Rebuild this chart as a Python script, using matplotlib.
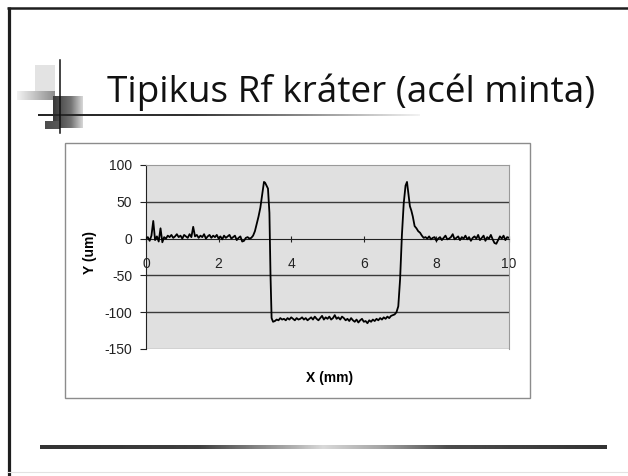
import matplotlib
matplotlib.use('Agg')
import matplotlib.pyplot as plt
from matplotlib.patches import Rectangle
import numpy as np

plt.rcParams['axes.unicode_minus'] = False

# profile data (x in mm, y in um)
x_left = [0.00, 0.05, 0.10, 0.15, 0.20, 0.25, 0.30, 0.35, 0.40, 0.45,
          0.50, 0.55, 0.60, 0.65, 0.70, 0.75, 0.80, 0.85, 0.90, 0.95,
          1.00, 1.05, 1.10, 1.15, 1.20, 1.25, 1.30, 1.35, 1.40, 1.45,
          1.50, 1.55, 1.60, 1.65, 1.70, 1.75, 1.80, 1.85, 1.90, 1.95,
          2.00, 2.05, 2.10, 2.15, 2.20, 2.25, 2.30, 2.35, 2.40, 2.45,
          2.50, 2.55, 2.60, 2.65, 2.70, 2.75, 2.80, 2.85]
y_left = [0, 2, -3, 4, 24, -2, 3, -4, 14, -5,
          2, 0, 4, 2, 5, 1, 3, 6, 2, 4,
          0, 5, 3, 1, 6, 2, 16, 3, 5, 1,
          4, 2, 6, 0, 3, 5, 1, 4, 2, 5,
          0, 3, -1, 4, 1, 3, 5, 0, 2, 4,
          -2, 1, 3, -4, -3, 1, 2, 0]

x_wall1 = [2.90, 2.95, 3.00, 3.05, 3.10, 3.15, 3.20, 3.25, 3.28, 3.32,
           3.36, 3.40, 3.43, 3.46, 3.50]
y_wall1 = [1, 4, 10, 20, 30, 42, 60, 77, 76, 72,
           68, 35, -50, -108, -113]

x_floor = [3.55, 3.60, 3.65, 3.70, 3.75, 3.80, 3.85, 3.90, 3.95, 4.00,
           4.05, 4.10, 4.15, 4.20, 4.25, 4.30, 4.35, 4.40, 4.45, 4.50,
           4.55, 4.60, 4.65, 4.70, 4.75, 4.80, 4.85, 4.90, 4.95, 5.00,
           5.05, 5.10, 5.15, 5.20, 5.25, 5.30, 5.35, 5.40, 5.45, 5.50,
           5.55, 5.60, 5.65, 5.70, 5.75, 5.80, 5.85, 5.90, 5.95, 6.00,
           6.05, 6.10, 6.15, 6.20, 6.25, 6.30, 6.35, 6.40, 6.45, 6.50,
           6.55, 6.60, 6.65, 6.70, 6.75, 6.80]
y_floor = [-112, -110, -111, -108, -110, -109, -111, -108, -110, -107,
           -109, -111, -108, -110, -109, -107, -110, -108, -111, -109,
           -107, -110, -106, -109, -111, -108, -105, -110, -107, -109,
           -106, -110, -108, -104, -109, -107, -110, -106, -108, -111,
           -109, -112, -108, -111, -113, -110, -114, -111, -109, -113,
           -112, -115, -111, -113, -110, -112, -109, -111, -108, -110,
           -107, -109, -106, -108, -105, -104]

x_wall2 = [6.85, 6.90, 6.95, 7.00, 7.05, 7.10, 7.15, 7.19, 7.23, 7.27,
           7.31, 7.35, 7.40, 7.45, 7.50, 7.55, 7.60, 7.65]
y_wall2 = [-103, -100, -92, -55, 5, 48, 72, 77, 60, 44,
           38, 30, 17, 14, 10, 8, 4, 1]

x_right = [7.70, 7.75, 7.80, 7.85, 7.90, 7.95, 8.00, 8.05, 8.10, 8.15,
           8.20, 8.25, 8.30, 8.35, 8.40, 8.45, 8.50, 8.55, 8.60, 8.65,
           8.70, 8.75, 8.80, 8.85, 8.90, 8.95, 9.00, 9.05, 9.10, 9.15,
           9.20, 9.25, 9.30, 9.35, 9.40, 9.45, 9.50, 9.55, 9.60, 9.65,
           9.70, 9.75, 9.80, 9.85, 9.90, 9.95, 10.00]
y_right = [2, 0, 3, -1, 1, 2, -3, 0, 2, -2,
           1, 4, -1, 0, 2, 6, -1, 1, 3, -2,
           2, 0, 4, -1, 2, -3, 1, 3, 0, 5,
           -2, 1, 4, -3, 2, 0, 5, -1, -6, -7,
           -2, 3, 0, 4, -2, 2, 1]

x_mm = x_left + x_wall1 + x_floor + x_wall2 + x_right
y_um = y_left + y_wall1 + y_floor + y_wall2 + y_right

x_ticks = [0, 2, 4, 6, 8, 10]
y_ticks = [-150, -100, -50, 0, 50, 100]
grid_levels = [50, -50, -100]

title = 'Tipikus Rf kráter (acél minta)'

W, H = 628, 476
fig = plt.figure(figsize=(W / 100, H / 100), dpi=100)

# slide decoration in pixel coordinates
bg = fig.add_axes([0, 0, 1, 1], zorder=0)
bg.axis('off')


def gradient_bar(x0, x1, y0, y1, stops):
    pos = np.linspace(0, 1, 256)
    vals = np.interp(pos, [s[0] for s in stops], [s[1] for s in stops])
    bg.imshow(vals[None, :], extent=[x0, x1, y1, y0], cmap='gray',
              vmin=0, vmax=1, aspect='auto', interpolation='bilinear')


# frame of the scanned slide
bg.plot([8.5, 8.5], [7, H], color='#1e1e1e', lw=2.3, solid_capstyle='butt')
bg.plot([7, W], [8, 8], color='#1e1e1e', lw=1.8, solid_capstyle='butt')
bg.plot([8, W], [472, 472], color='#e2e2e2', lw=0.8)

# title logo
bg.add_patch(Rectangle((35, 65), 20, 26, color='#e3e3e3', lw=0))
gradient_bar(17, 55, 91, 100, [(0, 0.95), (1, 0.55)])
gradient_bar(53, 83, 96, 128, [(0, 0.22), (0.6, 0.45), (1, 0.85)])
gradient_bar(45, 60, 121, 129, [(0, 0.3), (1, 0.35)])
bg.plot([60, 60], [60, 133], color='#111111', lw=1.1)
gradient_bar(38, 420, 114.5, 116.5, [(0, 0.15), (0.4, 0.2), (0.7, 0.55), (1, 0.95)])

bg.text(107, 102, title, fontsize=26.6, family='Open Sans', color='#111111',
        ha='left', va='baseline')

# chart box and bottom rule
bg.add_patch(Rectangle((65, 143), 465, 255, fill=False, ec='#8c8c8c', lw=1))
gradient_bar(40, 607, 445, 449, [(0, 0.2), (0.28, 0.25), (0.45, 0.7), (0.5, 0.85),
                                 (0.6, 0.65), (0.72, 0.3), (1, 0.2)])

bg.text(90, 252, 'Y (um)', rotation=90, fontsize=10, fontweight='bold',
        family='Liberation Sans', ha='center', va='center')
bg.text(330, 378, 'X (mm)', fontsize=10, fontweight='bold',
        family='Liberation Sans', ha='center', va='center')

bg.set_xlim(0, W)
bg.set_ylim(H, 0)

# the chart itself
ax = fig.add_axes([146 / W, 1 - 349 / H, (509 - 146) / W, (349 - 165) / H], zorder=2)
ax.set_facecolor('#e0e0e0')
ax.set_xlim(0, 10)
ax.set_ylim(-150, 100)

for lvl in grid_levels:
    ax.axhline(lvl, color='#3a3a3a', lw=1, zorder=1)
ax.axhline(-150, color='#9a9a9a', lw=1, zorder=1)

ax.plot(x_mm, y_um, color='black', lw=1.3, zorder=3)

ax.spines['bottom'].set_position(('data', 0))
ax.spines['bottom'].set_color('#222222')
ax.spines['left'].set_color('#222222')
ax.spines['top'].set_color('#9a9a9a')
ax.spines['right'].set_color('#9a9a9a')

ax.set_xticks(x_ticks)
ax.set_yticks(y_ticks)
ax.tick_params(axis='x', direction='inout', length=4, pad=11, labelsize=10,
               colors='#222222')
ax.tick_params(axis='y', direction='out', length=4, pad=6, labelsize=10,
               colors='#222222')
for lab in ax.get_xticklabels() + ax.get_yticklabels():
    lab.set_family('Liberation Sans')

fig.savefig('out.png', dpi=100, facecolor='white')
